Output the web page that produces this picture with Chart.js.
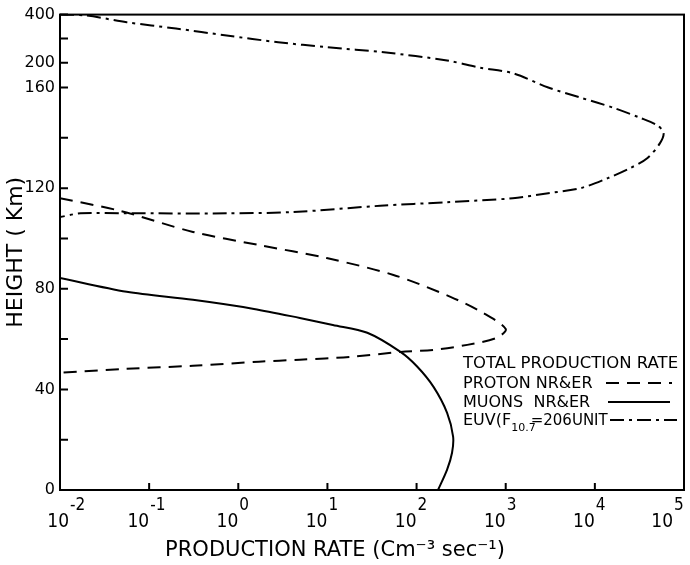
<!DOCTYPE html>
<html>
<head>
<meta charset="utf-8">
<script src="https://cdn.jsdelivr.net/npm/chart.js@4/dist/chart.umd.min.js"></script>
<style>
  body { margin: 0; background: #fff; }
  canvas { display: block; }
</style>
</head>
<body>
<canvas id="prod" width="690" height="565"></canvas>
<script>
// production rate (cm^-3 s^-1) vs height (km)
const protonRate = [0.01, 0.047, 0.31, 1.7, 9.8, 55, 240, 560, 1000, 790, 370, 155, 66, 18, 4.9, 1.7, 0.31, 0.056, 0.01];
const protonHeight = [116, 111, 102.6, 97.4, 92.2, 85.5, 76.8, 70.4, 64, 60.5, 57.7, 55.7, 54.9, 52.9, 51.8, 51.0, 49.4, 48.2, 46.6];

const muonRate = [0.01, 0.056, 0.31, 1.5, 4.9, 11.5, 28, 66, 102, 155, 220, 257, 250, 220, 174];
const muonHeight = [84.3, 78.8, 75.6, 72.0, 68.4, 65.6, 62.5, 54.9, 49.0, 41.0, 30.7, 21.2, 14.8, 8.1, 0];

const euvRate = [0.01, 0.02, 0.056, 0.2, 0.74, 2.8, 10, 43, 220, 510, 1200, 3000, 6900, 16000, 32000, 50000, 59000, 54000, 39000, 25000, 14000, 6900, 3000, 1200, 220, 39, 4.1, 0.74, 0.056, 0.017, 0.01];
const euvHeight = [400, 396, 368, 342, 313, 285, 264, 243, 209, 192, 183, 160, 156, 152, 148, 145, 142, 138, 132, 128, 124, 120, 118, 116, 114.4, 113, 110.5, 110, 110, 110, 108.5];

const yTickHeights = [0, 20, 40, 60, 80, 100, 120, 140, 160, 200, 300, 400];
const yTickLabels = ["0", "", "40", "", "80", "", "120", "", "160", "200", "", "400"];
const xTickValues = [1e-2, 1e-1, 1e0, 1e1, 1e2, 1e3, 1e4, 1e5];
const xTickExps = ["-2", "-1", "0", "1", "2", "3", "4", "5"];

// the height axis is broken above 160 km
function toAxis(h) {
  if (h <= 160) return h;
  if (h <= 200) return 160 + (h - 160) * 0.2475;
  return 169.9 + (h - 200) * 0.0955;
}

function pts(rate, height) {
  return rate.map((r, i) => ({ x: r, y: toAxis(height[i]) }));
}

const frame = {
  id: "frame",
  afterDatasetsDraw(chart) {
    const { ctx, chartArea: a, scales } = chart;
    const x = scales.x, y = scales.y;
    ctx.save();
    ctx.strokeStyle = "#000";
    ctx.lineWidth = 2;
    ctx.strokeRect(a.left, a.top, a.right - a.left, a.bottom - a.top);
    ctx.beginPath();
    yTickHeights.forEach((h) => {
      const py = y.getPixelForValue(toAxis(h));
      ctx.moveTo(a.left, py);
      ctx.lineTo(a.left + 8, py);
    });
    xTickValues.forEach((v) => {
      const px = x.getPixelForValue(v);
      ctx.moveTo(px, a.bottom);
      ctx.lineTo(px, a.bottom - 7);
    });
    ctx.stroke();

    // x tick labels: 10 with raised exponent
    ctx.fillStyle = "#000";
    xTickValues.forEach((v, i) => {
      let px = x.getPixelForValue(v);
      if (i === 0) px += 9;
      if (i === xTickValues.length - 1) px -= 11;
      ctx.font = "19px 'Liberation Sans Narrow', 'DejaVu Sans Condensed', sans-serif";
      ctx.textAlign = "right";
      ctx.fillText("10", px, 527);
      ctx.font = "17px 'Liberation Sans Narrow', 'DejaVu Sans Condensed', sans-serif";
      ctx.textAlign = "left";
      ctx.fillText(xTickExps[i], px + 1, 510);
    });

    // x axis title
    ctx.font = "21px 'DejaVu Sans'";
    ctx.textAlign = "center";
    ctx.fillText("PRODUCTION RATE (Cm⁻³ sec⁻¹)", 335, 556);

    // legend
    const lx = 463;
    ctx.textAlign = "left";
    ctx.font = "16.5px 'DejaVu Sans'";
    ctx.fillText("TOTAL PRODUCTION RATE", lx, 368);
    ctx.font = "16px 'DejaVu Sans'";
    ctx.fillText("PROTON NR&ER", lx, 388);
    ctx.fillText("MUONS  NR&ER", lx, 407);
    ctx.fillText("EUV(F", lx, 425);
    let w = ctx.measureText("EUV(F").width;
    ctx.font = "11px 'DejaVu Sans'";
    ctx.fillText("10.7", lx + w, 431);
    w += ctx.measureText("10.7").width - 5;
    ctx.font = "15px 'DejaVu Sans'";
    ctx.fillText("=206UNIT", lx + w, 425);

    const samples = [
      [606, 672, 383, [13, 8]],
      [608, 670, 402, []],
      [610, 677, 420, [14, 5, 3, 5]],
    ];
    samples.forEach(([x1, x2, yy, dash]) => {
      ctx.beginPath();
      ctx.setLineDash(dash);
      ctx.moveTo(x1, yy);
      ctx.lineTo(x2, yy);
      ctx.stroke();
    });
    ctx.restore();
  },
};

const lineStyle = {
  showLine: true,
  pointRadius: 0,
  borderColor: "#000",
  borderWidth: 2,
  tension: 0.3,
  fill: false,
};

new Chart(document.getElementById("prod"), {
  type: "scatter",
  data: {
    datasets: [
      { ...lineStyle, label: "PROTON NR&ER", data: pts(protonRate, protonHeight), borderDash: [13, 8] },
      { ...lineStyle, label: "MUONS NR&ER", data: pts(muonRate, muonHeight) },
      { ...lineStyle, label: "EUV", data: pts(euvRate, euvHeight), borderDash: [14, 5, 3, 5] },
    ],
  },
  options: {
    responsive: false,
    animation: false,
    layout: { padding: { top: 14, right: 6, left: 0, bottom: 0 } },
    plugins: { legend: { display: false }, tooltip: { enabled: false } },
    scales: {
      x: {
        type: "logarithmic",
        min: 0.01,
        max: 1e5,
        grid: { display: false, drawTicks: false },
        border: { display: false },
        ticks: { display: false },
        afterFit: (s) => { s.height = 75; },
      },
      y: {
        type: "linear",
        min: 0,
        max: toAxis(400),
        grid: { display: false, drawTicks: false },
        border: { display: false },
        afterBuildTicks: (s) => { s.ticks = yTickHeights.map((h) => ({ value: toAxis(h) })); },
        ticks: {
          autoSkip: false,
          padding: 5,
          color: "#000",
          font: { family: "'DejaVu Sans'", size: 16 },
          callback: (v, i) => yTickLabels[i],
        },
        title: {
          display: true,
          text: "HEIGHT ( Km)",
          color: "#000",
          font: { family: "'DejaVu Sans'", size: 22 },
          padding: { top: 3, bottom: 0 },
        },
        afterFit: (s) => { s.width = 60; },
      },
    },
  },
  plugins: [frame],
});
</script>
</body>
</html>
